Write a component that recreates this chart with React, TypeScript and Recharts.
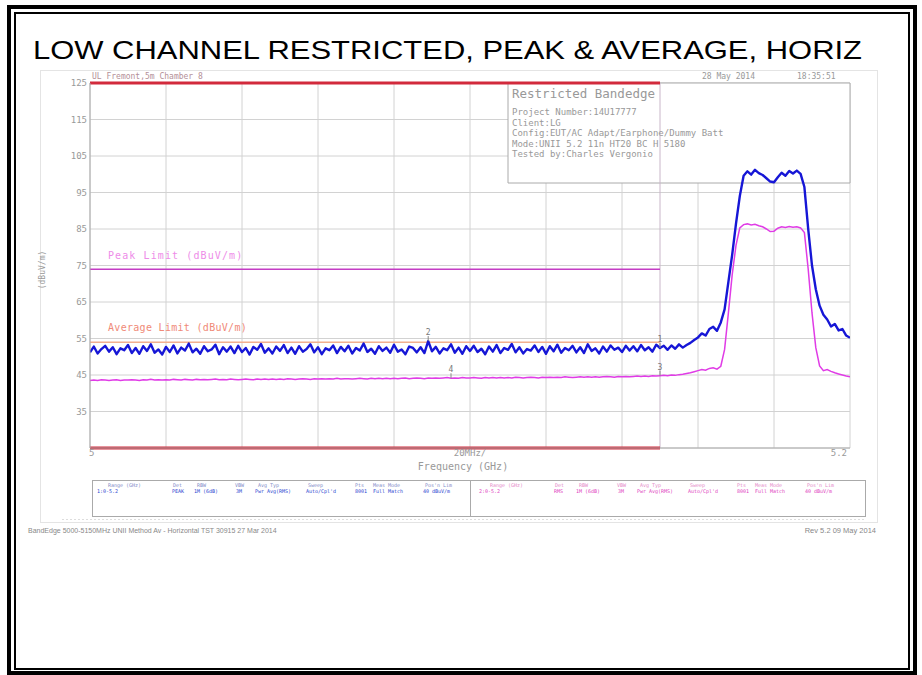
import React from 'react';
import {
  ComposedChart,
  Line,
  XAxis,
  YAxis,
  CartesianGrid,
  ReferenceLine,
  ReferenceArea,
  ReferenceDot,
} from 'recharts';

// ---- data ----
const FREQ_START = 5.0; // GHz
const FREQ_STEP = 0.001; // GHz per trace point

const PEAK = [
  51.2, 52.8, 50.9, 52.1, 53.0, 51.4, 52.6, 50.7, 52.3, 51.8,
  53.2, 51.0, 52.4, 50.8, 52.9, 51.6, 53.4, 51.1, 52.0, 50.6,
  52.7, 51.3, 53.1, 50.9, 52.5, 51.7, 53.6, 51.2, 52.2, 50.8,
  52.9, 51.5, 52.0, 53.3, 50.7, 52.6, 51.4, 52.8, 51.0, 53.0,
  51.3, 52.4, 50.6, 52.7, 51.9, 53.5, 51.1, 52.3, 50.9, 52.8,
  51.6, 53.2, 51.0, 52.5, 50.8, 52.9, 51.4, 52.1, 53.4, 51.2,
  52.6, 50.7, 52.3, 51.8, 53.1, 51.0, 52.7, 51.5, 53.0, 50.9,
  52.4, 51.7, 53.6, 51.3, 52.2, 50.8, 52.9, 51.6, 52.5, 51.1,
  53.3, 51.4, 52.0, 50.7, 52.8, 52.4, 51.2, 52.6, 51.0, 54.3,
  51.5, 52.7, 50.9, 52.3, 51.8, 53.4, 51.1, 52.5, 50.8, 52.9,
  51.6, 53.0, 51.3, 52.2, 50.7, 52.8, 51.4, 53.2, 51.0, 52.4,
  51.9, 53.5, 51.2, 52.6, 50.9, 52.1, 51.7, 53.1, 51.3, 52.7,
  50.8, 52.9, 51.5, 53.3, 51.1, 52.4, 51.8, 53.0, 51.2, 52.6,
  51.0, 53.4, 51.6, 52.3, 50.9, 52.8, 51.4, 53.1, 51.9, 52.5,
  51.3, 53.0, 51.7, 52.9, 51.5, 53.2, 51.8, 52.6, 51.4, 53.3,
  52.4, 53.0, 51.9, 53.1, 52.2, 53.4, 52.5, 53.2, 53.8, 54.6,
  55.3, 56.4, 55.8, 57.6, 58.2, 57.1, 59.4, 63.0, 70.5, 78.0,
  86.5, 94.0, 99.6, 100.8, 99.9, 101.2, 100.3, 99.8, 98.9, 98.0,
  97.8, 99.2, 100.4, 99.6, 100.9, 100.2, 101.0, 100.1, 96.5, 85.0,
  75.0, 68.5, 64.0, 61.5, 60.2, 58.3, 59.0, 57.2, 57.6, 55.8,
  55.2,
];

const AVG = [
  43.5, 43.6, 43.5, 43.7, 43.6, 43.5, 43.6, 43.7, 43.5, 43.6,
  43.6, 43.7, 43.6, 43.5, 43.7, 43.6, 43.8, 43.6, 43.7, 43.6,
  43.7, 43.6, 43.8, 43.7, 43.6, 43.8, 43.7, 43.6, 43.8, 43.7,
  43.8, 43.7, 43.8, 43.9, 43.7, 43.8, 43.7, 43.9, 43.8, 43.7,
  43.8, 43.9, 43.8, 43.7, 43.9, 43.8, 43.9, 43.8, 43.9, 43.8,
  43.9, 43.8, 44.0, 43.9, 43.8, 43.9, 44.0, 43.9, 43.8, 44.0,
  43.9, 44.0, 43.9, 44.0, 43.9, 44.1, 43.9, 44.0, 44.0, 43.9,
  44.0, 44.1, 44.0, 43.9, 44.1, 44.0, 44.1, 44.0, 44.1, 44.0,
  44.1, 44.0, 44.1, 44.2, 44.0, 44.1, 44.2, 44.1, 44.0, 44.2,
  44.1, 44.2, 44.1, 44.2, 44.3, 44.1, 44.2, 44.1, 44.3, 44.2,
  44.2, 44.3, 44.2, 44.1, 44.3, 44.2, 44.3, 44.2, 44.3, 44.2,
  44.3, 44.2, 44.4, 44.3, 44.2, 44.3, 44.4, 44.3, 44.2, 44.4,
  44.3, 44.4, 44.3, 44.4, 44.3, 44.5, 44.4, 44.3, 44.4, 44.5,
  44.4, 44.5, 44.4, 44.5, 44.4, 44.5, 44.6, 44.5, 44.4, 44.6,
  44.5, 44.6, 44.5, 44.6, 44.7, 44.6, 44.7, 44.6, 44.8, 44.7,
  44.8, 44.9, 44.8, 45.0, 44.9, 45.1, 45.2, 45.4, 45.6, 45.9,
  46.2, 46.5, 46.3, 46.8, 47.0, 46.6, 47.4, 52.0, 62.0, 72.5,
  80.5, 85.3, 86.2, 86.4, 86.1, 86.3, 85.9, 85.6, 85.0, 84.3,
  84.4, 85.2, 85.6, 85.4, 85.7, 85.5, 85.6, 85.3, 84.0, 74.0,
  62.0, 52.5, 47.5, 46.2, 46.5, 46.0, 45.6, 45.3, 45.0, 44.7,
  44.5,
];

const X_TICKS = [5.0, 5.02, 5.04, 5.06, 5.08, 5.1, 5.12, 5.14, 5.16, 5.18, 5.2];
const Y_TICKS = [25, 35, 45, 55, 65, 75, 85, 95, 105, 115, 125];
const Y_DOMAIN = [25, 125];

const PEAK_LIMIT = 74;
const AVG_LIMIT = 54;
const BAND = [5.0, 5.15]; // restricted band edges (GHz)
const DISPLAY_LINES = [125, 25];

const MARKERS = [
  { id: '1', f: 5.15, v: 52.4 },
  { id: '2', f: 5.089, v: 54.3 },
  { id: '3', f: 5.15, v: 44.8 },
  { id: '4', f: 5.095, v: 44.1 },
];

const INFO_BOX = { f1: 5.11, f2: 5.2, top: 125, bottom: 97.6 };

const INFO_LINES = [
  'Project Number:14U17777',
  'Client:LG',
  'Config:EUT/AC Adapt/Earphone/Dummy Batt',
  'Mode:UNII 5.2 11n HT20 BC H 5180',
  'Tested by:Charles Vergonio',
];

const TABLE_HEAD = ['Range (GHz)', 'Det', 'RBW', 'VBW', 'Avg Typ', 'Sweep', 'Pts', 'Meas Mode', "Pos'n Lim"];
const TABLE_LEFT = ['1:0-5.2', 'PEAK', '1M (6dB)', '3M', 'Pwr Avg(RMS)', "Auto/Cpl'd", '8001', 'Full Match', '40 dBuV/m'];
const TABLE_RIGHT = ['2:0-5.2', 'RMS', '1M (6dB)', '3M', 'Pwr Avg(RMS)', "Auto/Cpl'd", '8001', 'Full Match', '40 dBuV/m'];
const TABLE_COLS = [108, 173, 197, 235, 258, 308, 355, 373, 425];
const TABLE_VAL_COLS = [97, 172, 194, 236, 255, 306, 355, 373, 423];

const ROWS = PEAK.map((p, i) => ({
  f: Number((FREQ_START + i * FREQ_STEP).toFixed(3)),
  peak: p,
  avg: AVG[i],
}));

const MONO = 'DejaVu Sans Mono, monospace';
const GREY = '#999';

const near = (a: number, b: number) => Math.abs(a - b) < 1e-6;

const XTick = (props: any) => {
  const { x, y, payload } = props;
  const v = payload.value;
  let label = '';
  let anchor: 'start' | 'middle' | 'end' = 'middle';
  let dx = 0;
  if (near(v, 5.0)) {
    label = '5';
    anchor = 'start';
    dx = -1;
  } else if (near(v, 5.1)) {
    label = '20MHz/';
  } else if (near(v, 5.2)) {
    label = '5.2';
    anchor = 'end';
    dx = -3;
  }
  return (
    <text x={x + dx} y={y + 8} textAnchor={anchor} fontSize={9} fill={GREY} fontFamily={MONO}>
      {label}
    </text>
  );
};

const YTick = (props: any) => {
  const { x, y, payload } = props;
  const v = payload.value;
  return (
    <text x={x} y={y + 3} textAnchor="end" fontSize={9} fill={GREY} fontFamily={MONO}>
      {v === 25 ? '' : String(v)}
    </text>
  );
};

const MarkerShape = (id: string) => (props: any) => {
  const { cx, cy } = props;
  return (
    <g>
      <line x1={cx} x2={cx} y1={cy - 5} y2={cy} stroke="#888" strokeWidth={1} />
      <text x={cx} y={cy - 6} textAnchor="middle" fontSize={8} fill="#777" fontFamily={MONO}>
        {id}
      </text>
    </g>
  );
};

export default function App() {
  return (
    <div
      style={{
        position: 'absolute',
        left: 0,
        top: 0,
        width: 922,
        height: 675,
        background: '#fff',
        overflow: 'hidden',
      }}
    >
      {/* bottom decoration layer */}
      <svg width={922} height={675} style={{ position: 'absolute', left: 0, top: 0 }}>
        <rect x={9} y={7} width={906} height={666} fill="none" stroke="#000" strokeWidth={4} />
        <rect x={15} y={13} width={894} height={656} fill="none" stroke="#000" strokeWidth={2} />
        <rect x={40.5} y={70.5} width={837} height={452} fill="none" stroke="#e4e4e4" strokeWidth={1} />
        {/* table */}
        <rect x={92.5} y={480.5} width={773} height={36} fill="none" stroke="#aaa" strokeWidth={1} />
        <line x1={470.5} x2={470.5} y1={480.5} y2={516.5} stroke="#aaa" strokeWidth={1} />
        <line x1={62} x2={866} y1={519.5} y2={519.5} stroke="#ddd" strokeWidth={1} strokeDasharray="2 2" />
        {TABLE_HEAD.map((h, i) => (
          <text key={'hl' + i} x={TABLE_COLS[i]} y={487} fontSize={5} fill="#7f8cc8" fontFamily={MONO}>
            {h}
          </text>
        ))}
        {TABLE_LEFT.map((h, i) => (
          <text key={'vl' + i} x={TABLE_VAL_COLS[i]} y={493} fontSize={5} fill="#2a44d0" fontFamily={MONO}>
            {h}
          </text>
        ))}
        {TABLE_HEAD.map((h, i) => (
          <text key={'hr' + i} x={TABLE_COLS[i] + 382} y={487} fontSize={5} fill="#e58ac8" fontFamily={MONO}>
            {h}
          </text>
        ))}
        {TABLE_RIGHT.map((h, i) => (
          <text key={'vr' + i} x={TABLE_VAL_COLS[i] + 382} y={493} fontSize={5} fill="#e040c0" fontFamily={MONO}>
            {h}
          </text>
        ))}
        <text x={28} y={533} fontSize={7} fill="#888" fontFamily="Liberation Sans, Arial, sans-serif">
          BandEdge 5000-5150MHz UNII Method Av - Horizontal TST 30915 27 Mar 2014
        </text>
        <text x={876} y={533} textAnchor="end" fontSize={7.5} fill="#888" fontFamily="Liberation Sans, Arial, sans-serif">
          Rev 5.2 09 May 2014
        </text>
      </svg>

      <div style={{ position: 'absolute', left: 0, top: 0 }}>
        <ComposedChart
          width={922}
          height={675}
          data={ROWS}
          margin={{ top: 83, right: 72, bottom: 207, left: 50 }}
        >
          <CartesianGrid stroke="#d2d2d2" strokeWidth={1} />
          <XAxis
            dataKey="f"
            type="number"
            domain={[X_TICKS[0], X_TICKS[X_TICKS.length - 1]]}
            ticks={X_TICKS}
            interval={0}
            allowDataOverflow
            height={20}
            tickSize={0}
            tickMargin={0}
            tickLine={false}
            axisLine={{ stroke: '#aaa' }}
            tick={<XTick />}
          />
          <YAxis
            type="number"
            domain={Y_DOMAIN}
            ticks={Y_TICKS}
            interval={0}
            width={40}
            tickSize={0}
            tickMargin={3}
            tickLine={false}
            axisLine={{ stroke: '#aaa' }}
            tick={<YTick />}
          />
          <ReferenceArea
            x1={INFO_BOX.f1}
            x2={INFO_BOX.f2}
            y1={INFO_BOX.bottom}
            y2={INFO_BOX.top}
            fill="#fff"
            fillOpacity={1}
            stroke="#aaa"
            strokeWidth={1}
          />
          <ReferenceLine x={BAND[1]} stroke="#c9b6c9" strokeWidth={1} />
          <ReferenceLine
            segment={[
              { x: BAND[0], y: PEAK_LIMIT },
              { x: BAND[1], y: PEAK_LIMIT },
            ]}
            stroke="#c43cc4"
            strokeWidth={1.5}
          />
          <ReferenceLine
            segment={[
              { x: BAND[0], y: AVG_LIMIT },
              { x: BAND[1], y: AVG_LIMIT },
            ]}
            stroke="#f3b08e"
            strokeWidth={1.5}
          />
          {DISPLAY_LINES.map((v) => (
            <ReferenceLine
              key={'d' + v}
              segment={[
                { x: BAND[0], y: v },
                { x: BAND[1], y: v },
              ]}
              stroke="#d22a3c"
              strokeWidth={3}
              ifOverflow="visible"
            />
          ))}
          <Line
            dataKey="avg"
            type="linear"
            stroke="#e03ce6"
            strokeWidth={1.5}
            dot={false}
            isAnimationActive={false}
          />
          <Line
            dataKey="peak"
            type="linear"
            stroke="#1616d6"
            strokeWidth={2.4}
            strokeLinejoin="round"
            dot={false}
            isAnimationActive={false}
          />
          {MARKERS.map((m) => (
            <ReferenceDot key={'m' + m.id} x={m.f} y={m.v} r={2} shape={MarkerShape(m.id)} />
          ))}
        </ComposedChart>
      </div>

      {/* top text layer */}
      <svg width={922} height={675} style={{ position: 'absolute', left: 0, top: 0, pointerEvents: 'none' }}>
        <text
          x={33}
          y={59}
          fontSize={25}
          textLength={829}
          lengthAdjust="spacingAndGlyphs"
          fill="#000"
          fontFamily="Liberation Sans, Arial, sans-serif"
        >
          LOW CHANNEL RESTRICTED, PEAK &amp; AVERAGE, HORIZ
        </text>
        <text x={92} y={79} fontSize={8} fill="#b49098" fontFamily={MONO}>
          UL Fremont,5m Chamber 8
        </text>
        <text x={702} y={79} fontSize={8} fill={GREY} fontFamily={MONO}>
          28 May 2014
        </text>
        <text x={797} y={79} fontSize={8} fill={GREY} fontFamily={MONO}>
          18:35:51
        </text>
        <text x={512} y={98} fontSize={12.5} fill="#999" fontFamily={MONO}>
          Restricted Bandedge
        </text>
        {INFO_LINES.map((t, i) => (
          <text key={'i' + i} x={512} y={115 + i * 10.5} fontSize={9} fill="#999" fontFamily={MONO}>
            {t}
          </text>
        ))}
        <text x={108} y={259} fontSize={10} letterSpacing={1.1} fill="#ee8ce8" fontFamily={MONO}>
          Peak Limit (dBuV/m)
        </text>
        <text x={108} y={331} fontSize={10} letterSpacing={0.3} fill="#f08a78" fontFamily={MONO}>
          Average Limit (dBuV/m)
        </text>
        <text
          x={45}
          y={270}
          fontSize={8}
          fill={GREY}
          fontFamily={MONO}
          textAnchor="middle"
          transform="rotate(-90 45 270)"
        >
          (dBuV/m)
        </text>
        <text x={463} y={470} fontSize={10} textAnchor="middle" fill={GREY} fontFamily={MONO}>
          Frequency (GHz)
        </text>
      </svg>
    </div>
  );
}
